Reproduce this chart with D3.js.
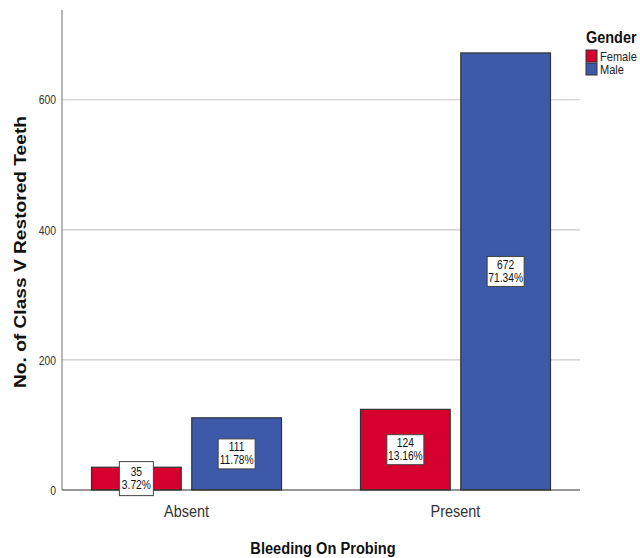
<!DOCTYPE html>
<html>
<head>
<meta charset="utf-8">
<script src="https://cdn.jsdelivr.net/npm/d3@7"></script>
<style>
  html, body { margin: 0; padding: 0; background: #fff; }
  svg { display: block; }
</style>
</head>
<body>
<svg id="chart" width="640" height="558"></svg>
<script>
// Class V restored teeth by bleeding on probing and gender
const categories = ["Absent", "Present"];
const genders = ["Female", "Male"];
const femaleCounts = [35, 124];
const maleCounts = [111, 672];
const femalePercents = ["3.72%", "13.16%"];
const malePercents = ["11.78%", "71.34%"];
const yTicks = [0, 200, 400, 600];

const colors = { Female: "#d6002f", Male: "#3d59a9" };
const font = "'Liberation Sans', Arial, sans-serif";

const svg = d3.select("#chart");
const plot = { left: 62, right: 580, top: 10, bottom: 490 };

const y = d3.scaleLinear().domain([0, 738]).range([plot.bottom, plot.top]);
const x = d3.scaleBand().domain(categories).range([52, 590]);
const xSub = d3.scaleBand().domain(genders)
  .range([x.bandwidth() / 2 - 95, x.bandwidth() / 2 + 95])
  .paddingInner(10 / 95);

// Condensed text: horizontally squeezed glyphs
function narrowText(sel, tx, ty, sx) {
  return sel.append("text")
    .attr("transform", `translate(${tx},${ty}) scale(${sx},1)`)
    .attr("font-family", font);
}

// Gridlines
svg.append("g")
  .selectAll("line")
  .data(yTicks.filter(d => d > 0))
  .join("line")
  .attr("x1", plot.left).attr("x2", plot.right)
  .attr("y1", d => y(d)).attr("y2", d => y(d))
  .attr("stroke", "#c8c8c8").attr("stroke-width", 1.2);

// Y axis
const yAxis = svg.append("g")
  .attr("transform", `translate(${plot.left},0)`)
  .call(d3.axisLeft(y).tickValues(yTicks).tickSize(0).tickPadding(6));
yAxis.select(".domain").remove();
yAxis.selectAll(".tick text")
  .attr("font-family", font).attr("font-size", 13).attr("fill", "#333")
  .attr("transform", "scale(0.8,1)")
  .attr("x", -6 / 0.8);
svg.append("line")
  .attr("x1", plot.left).attr("x2", plot.left)
  .attr("y1", plot.top).attr("y2", plot.bottom)
  .attr("stroke", "#888").attr("stroke-width", 1.2);

// Data rows
const rows = [];
categories.forEach((c, i) => {
  rows.push({ cat: c, gender: "Female", value: femaleCounts[i], pct: femalePercents[i] });
  rows.push({ cat: c, gender: "Male", value: maleCounts[i], pct: malePercents[i] });
});

// Bars
svg.append("g")
  .selectAll("rect")
  .data(rows)
  .join("rect")
  .attr("x", d => x(d.cat) + xSub(d.gender))
  .attr("y", d => y(d.value))
  .attr("width", xSub.bandwidth())
  .attr("height", d => y(0) - y(d.value))
  .attr("fill", d => colors[d.gender])
  .attr("stroke", "#333")
  .attr("stroke-width", 1.2);

// X axis baseline
svg.append("line")
  .attr("x1", plot.left).attr("x2", plot.right)
  .attr("y1", plot.bottom).attr("y2", plot.bottom)
  .attr("stroke", "#333").attr("stroke-width", 1.2);

// Category labels
categories.forEach(c => {
  narrowText(svg, x(c) + x.bandwidth() / 2, 517, 0.85)
    .attr("text-anchor", "middle")
    .attr("font-size", 17).attr("fill", "#333")
    .text(c);
});

// Value labels in white boxes
const labels = svg.append("g")
  .selectAll("g")
  .data(rows)
  .join("g")
  .attr("transform", d => `translate(${x(d.cat) + xSub(d.gender) + xSub.bandwidth() / 2},${(y(d.value) + y(0)) / 2})`);
labels.append("rect")
  .attr("x", d => d.pct.length > 5 ? -18.5 : -17)
  .attr("y", d => d.pct.length > 5 ? -15 : -17)
  .attr("width", d => d.pct.length > 5 ? 37 : 34)
  .attr("height", d => d.pct.length > 5 ? 30 : 34)
  .attr("fill", "#fff").attr("stroke", "#444").attr("stroke-width", 1);
labels.append("text")
  .attr("text-anchor", "middle")
  .attr("transform", "translate(0,-2.5) scale(0.82,1)")
  .attr("font-family", font).attr("font-size", 12.5).attr("fill", "#111")
  .text(d => d.value);
labels.append("text")
  .attr("text-anchor", "middle")
  .attr("transform", "translate(0,10.5) scale(0.82,1)")
  .attr("font-family", font).attr("font-size", 12.5).attr("fill", "#111")
  .text(d => d.pct);

// Axis titles
narrowText(svg, 323, 554, 0.86)
  .attr("text-anchor", "middle")
  .attr("font-weight", "bold").attr("font-size", 17).attr("fill", "#111")
  .text("Bleeding On Probing");
svg.append("text")
  .attr("transform", "translate(26,252) rotate(-90)")
  .attr("text-anchor", "middle")
  .attr("font-family", font).attr("font-weight", "bold").attr("font-size", 16.5).attr("fill", "#111")
  .attr("textLength", 272).attr("lengthAdjust", "spacingAndGlyphs")
  .text("No. of Class V Restored Teeth");

// Legend
const legend = svg.append("g").attr("transform", "translate(586,0)");
narrowText(legend, 0, 43, 0.85)
  .attr("font-weight", "bold").attr("font-size", 17).attr("fill", "#111")
  .text("Gender");
const items = legend.selectAll("g.item")
  .data(genders)
  .join("g")
  .attr("class", "item")
  .attr("transform", (d, i) => `translate(0,${50 + i * 13})`);
items.append("rect")
  .attr("width", 11).attr("height", 12)
  .attr("fill", d => colors[d]).attr("stroke", "#333").attr("stroke-width", 1);
items.each(function (d) {
  narrowText(d3.select(this), 14, 10.5, 0.85)
    .attr("font-size", 13).attr("fill", "#222")
    .text(d);
});
</script>
</body>
</html>
